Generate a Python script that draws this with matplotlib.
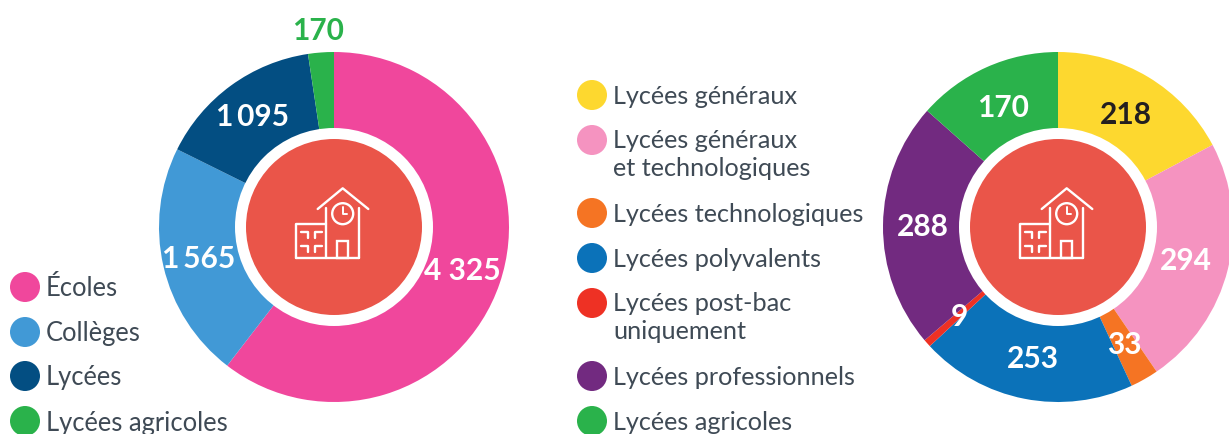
import numpy as np
import matplotlib
matplotlib.use("Agg")
import matplotlib.pyplot as plt
from matplotlib.patches import Circle, Rectangle

plt.rcParams['font.family'] = ['Lato', 'DejaVu Sans']

W, H = 1229, 434

left_values = [4325, 1565, 1095, 170]
left_labels = ['4 325', '1\u2009565', '1\u2009095', '170']
left_colors = ['#f0479c', '#4199d6', '#034e82', '#2ab24b']
left_legend = ['Écoles', 'Collèges', 'Lycées', 'Lycées agricoles']

right_values = [218, 294, 33, 253, 9, 288, 170]
right_labels = ['218', '294', '33', '253', '9', '288', '170']
right_colors = ['#fdd82f', '#f593c0', '#f57423', '#0b72b9', '#ee3124', '#722a80', '#2ab24b']
right_legend = ['Lycées généraux', 'Lycées généraux\net technologiques', 'Lycées technologiques',
                'Lycées polyvalents', 'Lycées post-bac\nuniquement', 'Lycées professionnels', 'Lycées agricoles']

RED = '#ea5549'
TEXT = '#3f4a55'

fig = plt.figure(figsize=(W / 100, H / 100), dpi=100)
ax = fig.add_axes([0, 0, 1, 1])
ax.set_xlim(0, W)
ax.set_ylim(H, 0)
ax.axis('off')


def line(cx, cy, xs, ys, lw=1.7):
    ax.plot([cx + x for x in xs], [cy + y for y in ys], color='white', lw=lw,
            solid_capstyle='round', solid_joinstyle='round')


def draw_icon(cx, cy):
    line(cx, cy, [-16.3, 8.7, 34.3], [-18, -38.7, -18])  # roof
    line(cx, cy, [-7.7, -7.7], [-19, 30.7])
    line(cx, cy, [25.3, 25.3], [-19, 30.7])
    line(cx, cy, [-38, 25.3], [30.7, 30.7])
    line(cx, cy, [-38, -38, -7.7], [30.7, -2.7, -2.7])  # wing
    ax.add_patch(Circle((cx + 8.7, cy - 13.3), 10.5, fill=False, ec='white', lw=1.7))
    line(cx, cy, [8.7, 8.7, 13], [-20, -13, -13], lw=1.4)
    ax.add_patch(Rectangle((cx + 3.3, cy + 14), 11, 16.7, fill=False, ec='white', lw=1.7))
    # windows, only a corner of each is drawn
    for y0 in (4.7, 18.7):
        line(cx, cy, [-32.7, -26, -26], [y0, y0, y0 + 6])
        line(cx, cy, [-19, -19, -12], [y0 + 6, y0, y0])


def draw_donut(cx, cy, values, colors, r):
    sub = fig.add_axes([(cx - r) / W, 1 - (cy + r) / H, 2 * r / W, 2 * r / H])
    sub.pie(values, colors=colors, startangle=90, counterclock=False, radius=1,
            wedgeprops=dict(linewidth=0))
    sub.set_xlim(-1, 1)
    sub.set_ylim(-1, 1)
    sub.set_zorder(0)


draw_donut(334, 227, left_values, left_colors, 175)
draw_donut(1058, 227, right_values, right_colors, 175)
ax.set_zorder(2)
ax.patch.set_alpha(0)

for cx in (334, 1058):
    ax.add_patch(Circle((cx, 227), 99, fc='white', ec='none'))
    ax.add_patch(Circle((cx, 227), 88, fc=RED, ec='none'))
    draw_icon(cx, 227)

value_kw = dict(ha='center', va='center', fontsize=21.5, fontweight='bold', color='white')
left_pos = [(462, 271), (199, 259), (252, 117), (318, 31)]
for (x, y), s in zip(left_pos, left_labels):
    ax.text(x, y, s, **value_kw)
ax.texts[-1].set_color('#2ab24b')

right_pos = [(1126, 115), (1186, 261), (1124, 345), (1033, 359), (959, 317), (923, 227), (1003, 108)]
for (x, y), s in zip(right_pos, right_labels):
    ax.text(x, y, s, **value_kw)
ax.texts[-7].set_color('#231f20')

for y, s, c in zip([287, 332, 376, 421], left_legend, left_colors):
    ax.add_patch(Circle((25, y), 15, fc=c, ec='none'))
    ax.text(46, y + 2, s, ha='left', va='center', fontsize=18.4, color=TEXT)

right_y = [95, 140, 213, 258, 303, 376, 421]
right_n = [1, 2, 1, 1, 2, 1, 1]
for y, s, c, n in zip(right_y, right_legend, right_colors, right_n):
    ax.add_patch(Circle((592, y), 15, fc=c, ec='none'))
    ax.text(613, y - 10 if n == 1 else y - 11, s, ha='left', va='top', fontsize=18.2, color=TEXT, linespacing=1.28)

fig.savefig('out.png', dpi=100)
